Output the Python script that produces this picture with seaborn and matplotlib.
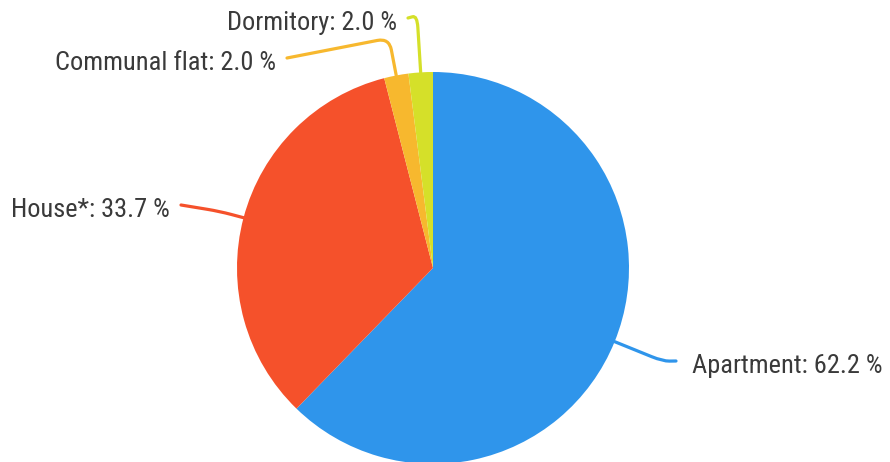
import numpy as np
import matplotlib.pyplot as plt
import seaborn as sns
from matplotlib import font_manager
from matplotlib.path import Path
from matplotlib.patches import PathPatch

# data
categories = ["Apartment", "House*", "Communal flat", "Dormitory"]
shares = [62.2, 33.7, 2.0, 2.0]
slice_colors = ["#2f95eb", "#f5512b", "#f7b82e", "#d5e029"]

# layout (pixels, measured from top-left)
W, H = 890, 462
cx, cy, R = 433, H - 268, 196
elbow_out = [52, 25, 38, 57]
label_pos = [(692, 373), (170, 217), (276, 70), (397, 30)]
label_ha = ["left", "right", "right", "right"]

sns.set_theme(style="white")
available = {f.name for f in font_manager.fontManager.ttflist}
label_font, label_size = "Roboto", 16
for fam, size in [("Roboto Condensed", 19), ("Liberation Sans Narrow", 19)]:
    if fam in available:
        label_font, label_size = fam, size
        break
plt.rcParams["font.family"] = [label_font, "DejaVu Sans"]

fig = plt.figure(figsize=(W / 100, H / 100), dpi=100)
ax = fig.add_axes([0, 0, 1, 1])

palette = sns.color_palette(slice_colors)
wedges, _ = ax.pie(shares, colors=palette, startangle=90, counterclock=False,
                   center=(cx, cy), radius=R, normalize=True,
                   wedgeprops=dict(linewidth=0))

# pie() resets the limits, so set the pixel frame afterwards
ax.set_xlim(0, W)
ax.set_ylim(0, H)
ax.set_aspect("equal")
ax.axis("off")


def leader(wedge, out, end, color):
    m = np.deg2rad((wedge.theta1 + wedge.theta2) / 2)
    u = np.array([np.cos(m), np.sin(m)])
    a = np.array([cx, cy]) + R * u
    e = np.array([cx, cy]) + (R + out) * u
    p = np.array(end, dtype=float)
    k1 = min(12, 0.5 * np.linalg.norm(e - a))
    k2 = min(12, 0.5 * np.linalg.norm(p - e))
    b = e - k1 * (e - a) / np.linalg.norm(e - a)
    c = e + k2 * (p - e) / np.linalg.norm(p - e)
    verts = [a, b, e, c, p]
    codes = [Path.MOVETO, Path.LINETO, Path.CURVE3, Path.CURVE3, Path.LINETO]
    ax.add_patch(PathPatch(Path(verts, codes), fill=False, edgecolor=color,
                           linewidth=2.3, capstyle="round"))


for w, cat, val, out, (tx, ty), ha, col in zip(
        wedges, categories, shares, elbow_out, label_pos, label_ha, palette):
    gap = 16 if ha == "left" else -11
    end = (tx - gap, H - ty + 12)
    leader(w, out, end, col)
    ax.text(tx, H - ty, f"{cat}: {val:.1f} %", ha=ha, va="baseline",
            fontsize=label_size, color="#3a3a3a")

fig.savefig("out.png", dpi=100)
